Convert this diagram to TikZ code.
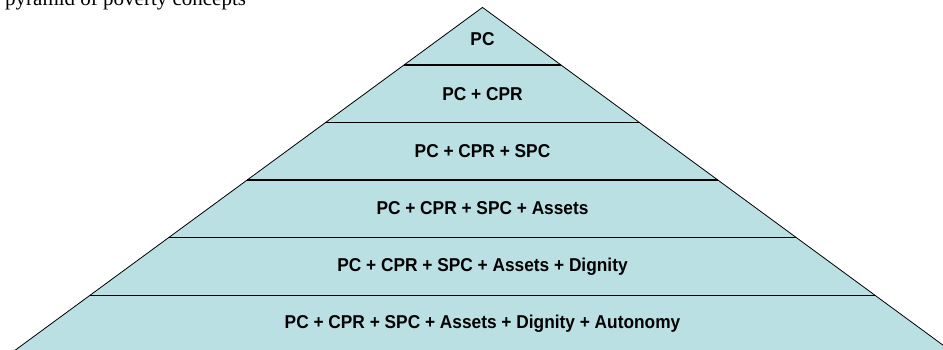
\documentclass[tikz,border=0pt]{standalone}
\usepackage{fontspec}
\setmainfont{Liberation Serif}
\newfontfamily\lblfont[FakeStretch=0.93]{Liberation Sans}
\definecolor{pyrfill}{RGB}{186,224,227}
\tikzset{
  lvllabel/.style={anchor=base, inner sep=0pt, font=\lblfont\bfseries\fontsize{18.6}{20}\selectfont},
  divline/.style={draw=black, line width=1.1pt},
  sideline/.style={draw=black, line width=0.8pt}
}
\begin{document}
\begin{tikzpicture}[x=1pt,y=-1pt]
\useasboundingbox (0,0) rectangle (943,349);
\clip (0,0) rectangle (943,349);
\coordinate (apex) at (482.5,7.4);
\coordinate (bl) at ({482.5-(370-7.4)*1.3634},370);
\coordinate (br) at ({482.5+(370-7.4)*1.3634},370);
\fill[pyrfill] (apex) -- (bl) -- (br) -- cycle;
\foreach \y in {65,122.5,180,237.7,295.3}
  \draw[divline] ({482.5-(\y-7.4)*1.3634},\y) -- ({482.5+(\y-7.4)*1.3634},\y);
\draw[sideline] (bl) -- (apex) -- (br);
\node[lvllabel] (l1) at (482.5,45.5) {PC};
\node[lvllabel] (l2) at (482.5,100.1) {PC + CPR};
\node[lvllabel] (l3) at (482.5,157.3) {PC + CPR + SPC};
\node[lvllabel] (l4) at (482.5,214.5) {PC + CPR + SPC + Assets};
\node[lvllabel] (l5) at (482.5,271.6) {PC + CPR + SPC + Assets + Dignity};
\node[lvllabel] (l6) at (482.5,328.6) {PC + CPR + SPC + Assets + Dignity + Autonomy};
\node[anchor=base west, inner sep=0pt, font=\fontsize{21}{24}\selectfont] (title) at (5,5.4) {pyramid of poverty concepts};
\end{tikzpicture}
\end{document}
